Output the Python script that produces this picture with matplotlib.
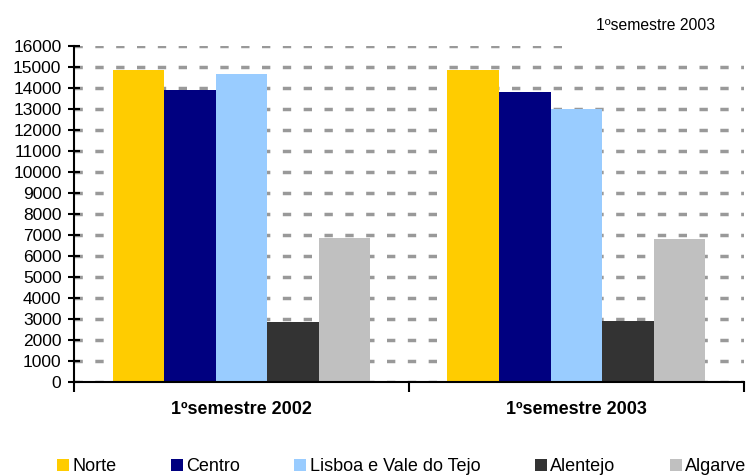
import matplotlib.pyplot as plt
import numpy as np
from matplotlib.patches import Rectangle

plt.rcParams['font.family'] = ['Liberation Sans', 'DejaVu Sans']

periods = ["1ºsemestre 2002", "1ºsemestre 2003"]
regions = ["Norte", "Centro", "Lisboa e Vale do Tejo", "Alentejo", "Algarve"]
norte = [14870, 14870]
centro = [13920, 13830]
lisboa = [14680, 13020]
alentejo = [2870, 2900]
algarve = [6880, 6830]
colors = ["#FFCC00", "#000080", "#99CCFF", "#333333", "#C0C0C0"]

values = [norte, centro, lisboa, alentejo, algarve]

fig = plt.figure(figsize=(7.52, 4.76), dpi=100)
ax = fig.add_axes([0.0984, 0.1975, 0.8906, 0.7059])

x = np.arange(len(periods))
w = 0.154
for k, (name, vals) in enumerate(zip(regions, values)):
    ax.bar(x + (k - 2) * w, vals, width=w, color=colors[k], label=name, zorder=2)

ax.set_xlim(-0.5, 1.5)
ax.set_ylim(0, 16000)
ax.set_yticks(np.arange(0, 16001, 1000))
ax.tick_params(axis='y', labelsize=12.5, direction='inout', length=8, width=1.5, pad=5)
ax.set_xticks([-0.5, 0.5, 1.5])
ax.set_xticklabels([])
ax.set_xticks(x, minor=True)
ax.set_xticklabels(periods, minor=True, fontweight='bold', fontsize=13)
ax.tick_params(axis='x', which='major', direction='out', length=7, width=1.5)
ax.tick_params(axis='x', which='minor', length=0, pad=14)

ax.yaxis.grid(True, color='#999999', linestyle=(0, (2.4, 3.6)), linewidth=2.5, zorder=0)
ax.set_axisbelow(True)
for s in ['top', 'right']:
    ax.spines[s].set_visible(False)
ax.spines['left'].set_linewidth(1.5)
ax.spines['bottom'].set_linewidth(1.5)

# the title box hides the end of the top gridline
ax.add_patch(Rectangle((0.98, 15700), 0.6, 600, facecolor='white', edgecolor='none',
                       clip_on=False, zorder=1))

fig.text(0.951, 0.947, "1ºsemestre 2003", ha='right', va='center', fontsize=11.3)

fig.legend(loc='center left', bbox_to_anchor=(0.0758, 0.019), ncol=5, frameon=False,
           fontsize=13, handlelength=0.66, handleheight=0.66, handletextpad=0.2,
           columnspacing=3.0, borderaxespad=0, borderpad=0)

fig.savefig("out.png", dpi=100)
